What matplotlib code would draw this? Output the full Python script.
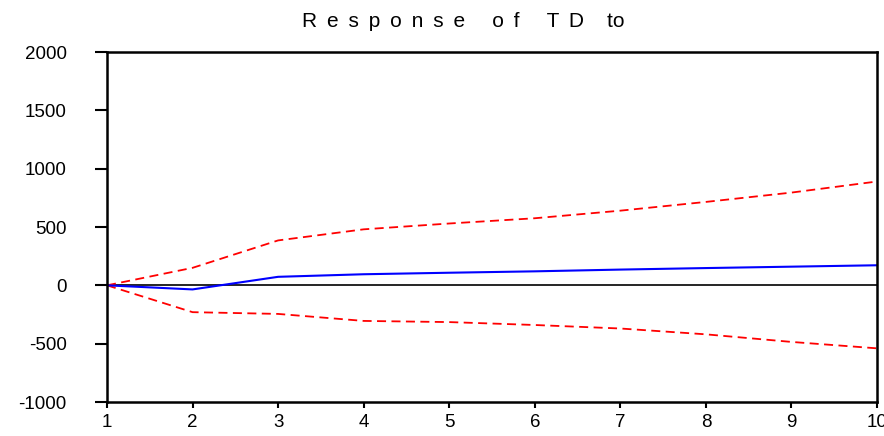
import matplotlib.pyplot as plt
import numpy as np

plt.rcParams['font.family'] = ['Liberation Sans', 'DejaVu Sans']
plt.rcParams['axes.unicode_minus'] = False

# Impulse response of TD with +/- 2 S.E. bands
periods = [1, 2, 3, 4, 5, 6, 7, 8, 9, 10]
response = [0, -35, 73, 95, 108, 120, 135, 148, 160, 172]
upper = [0, 150, 385, 480, 530, 575, 640, 715, 795, 890]
lower = [0, -230, -245, -305, -315, -340, -370, -420, -485, -540]

fig = plt.figure(figsize=(8.84, 4.36), dpi=100)
ax = fig.add_axes([107/884, 1-402/436, 770/884, 350/436])

ax.axhline(0, color='black', lw=1.2)
ax.plot(periods, upper, color='red', lw=1.3, linestyle=(0, (5, 3)))
ax.plot(periods, lower, color='red', lw=1.3, linestyle=(0, (5, 3)))
ax.plot(periods, response, color='blue', lw=1.5)

ax.set_xlim(1, 10)
ax.set_ylim(-1000, 2000)
ax.set_xticks(periods)
ax.set_yticks([-1000, -500, 0, 500, 1000, 1500, 2000])
ax.tick_params(axis='y', direction='out', length=9, width=1.5, pad=20, labelsize=13.5)
ax.tick_params(axis='x', direction='out', length=4.5, width=1.5, pad=4, labelsize=13.5)
for s in ax.spines.values():
    s.set_linewidth(1.8)

sep = " \u2009"
title = sep.join("Response") + "   " + sep + sep.join("of") + "   " + sep + \
        sep.join("TD") + "    " + "to"
fig.text(302/884, 1-27/436, title, ha='left', va='baseline', fontsize=15)

fig.savefig('out.png', dpi=100)
